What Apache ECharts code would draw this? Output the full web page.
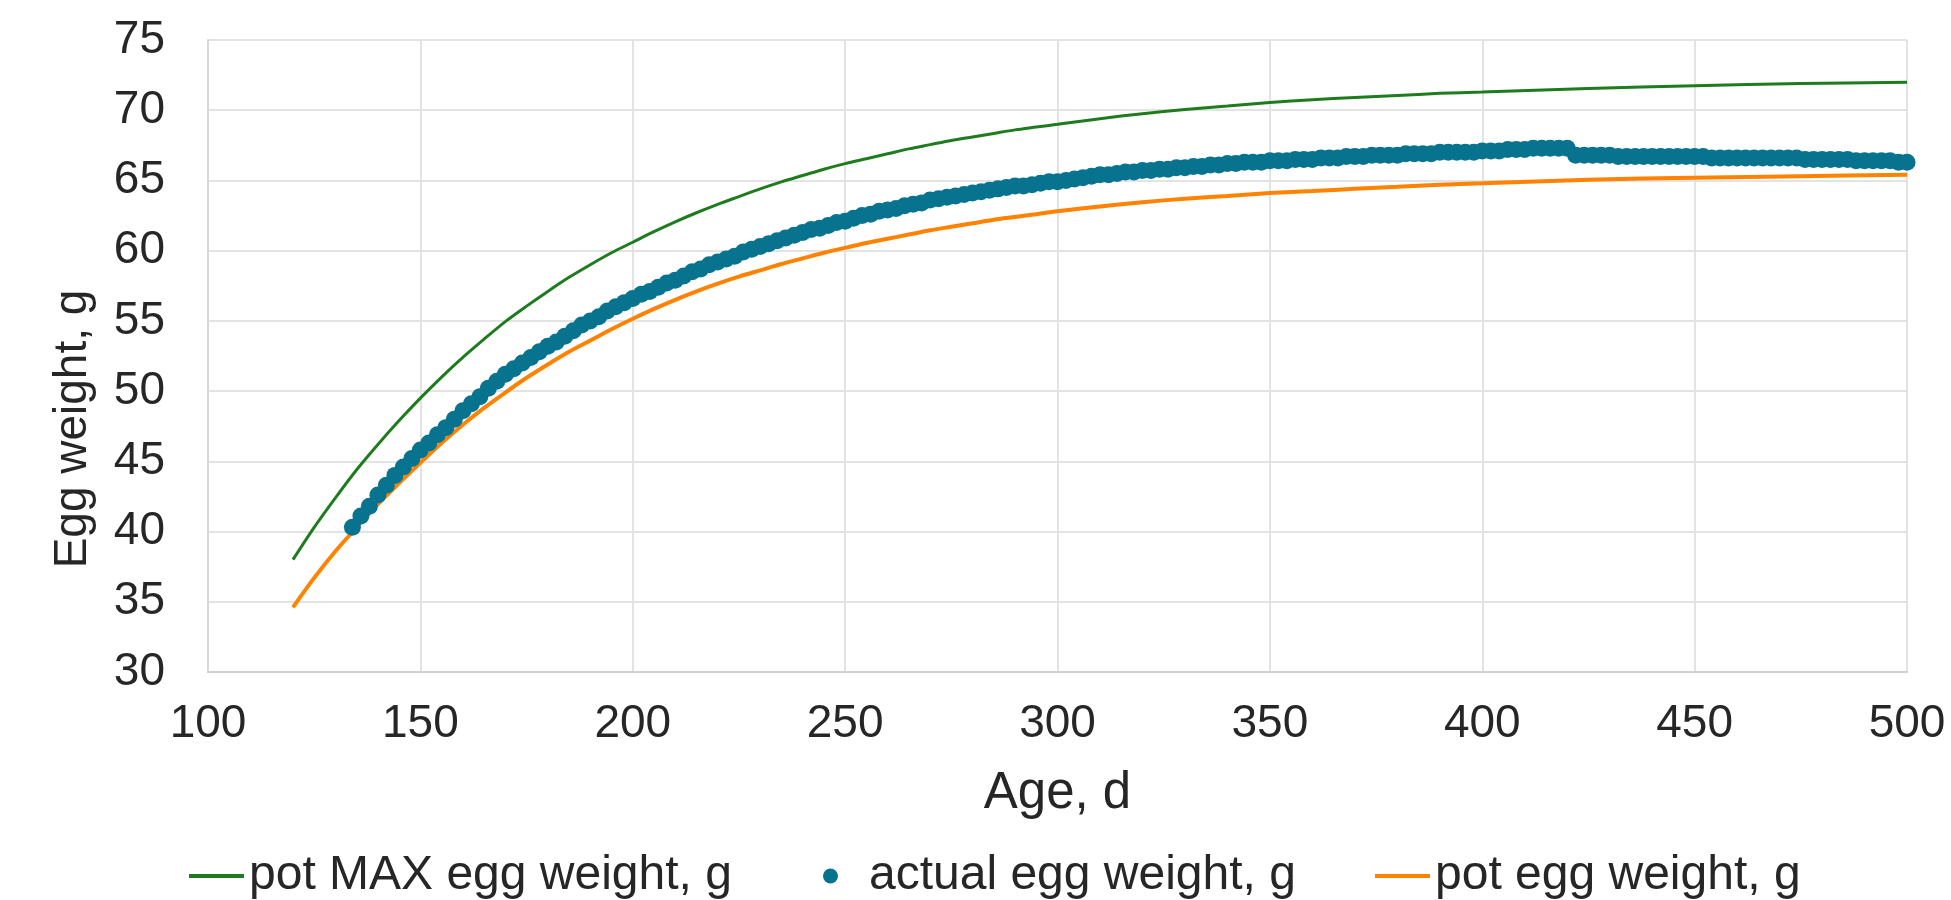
<!DOCTYPE html>
<html>
<head>
<meta charset="utf-8">
<script src="https://cdn.jsdelivr.net/npm/echarts@6/dist/echarts.min.js"></script>
<style>
html,body{margin:0;padding:0;background:#fff;}
#chart{width:1951px;height:900px;}
</style>
</head>
<body>
<div id="chart"></div>
<script>
// ---- data ----
const lineAge = [120,125,130,135,140,145,150,155,160,165,170,175,180,185,190,195,200,205,210,215,220,225,230,235,240,245,250,255,260,265,270,275,280,285,290,295,300,310,320,330,340,350,360,370,380,390,400,425,450,475,500];
const potMax  = [38.0,40.3,42.4,44.4,46.2,47.9,49.5,51.0,52.4,53.7,54.95,56.05,57.1,58.1,59.0,59.85,60.6,61.35,62.05,62.7,63.3,63.85,64.4,64.9,65.35,65.8,66.2,66.55,66.9,67.25,67.55,67.85,68.1,68.35,68.6,68.8,69.0,69.4,69.75,70.05,70.3,70.55,70.75,70.9,71.05,71.2,71.3,71.55,71.75,71.9,72.0];
const potEgg  = [34.6,36.7,38.6,40.3,41.95,43.45,44.9,46.3,47.6,48.8,49.9,50.95,51.9,52.8,53.6,54.4,55.15,55.85,56.5,57.1,57.65,58.15,58.6,59.05,59.45,59.85,60.2,60.55,60.85,61.15,61.45,61.7,61.95,62.2,62.4,62.6,62.8,63.15,63.45,63.7,63.9,64.1,64.25,64.4,64.55,64.7,64.8,65.05,65.2,65.3,65.4];

const actualAge = [134,136,138,140,142,144,146,148,150,152,154,156,158,160,162,164,166,168,170,172,174,176,178,180,182,184,186,188,190,192,194,196,198,200,
  202,204,206,208,210,212,214,216,218,220,222,224,226,228,230,232,234,236,238,240,242,244,246,248,250,
  252,254,256,258,260,262,264,266,268,270,272,274,276,278,280,282,284,286,288,290,292,294,296,298,300,
  302,304,306,308,310,312,314,316,318,320,322,324,326,328,330,332,334,336,338,340,342,344,346,348,350,
  352,354,356,358,360,362,364,366,368,370,372,374,376,378,380,382,384,386,388,390,392,394,396,398,400,
  402,404,406,408,410,412,414,416,418,420,422,424,426,428,430,432,434,436,438,440,442,444,446,448,450,
  452,454,456,458,460,462,464,466,468,470,472,474,476,478,480,482,484,486,488,490,492,494,496,498,500];
const actualEgg = [40.3,41.1,41.8,42.6,43.3,44.0,44.6,45.2,45.8,46.3,46.9,47.4,48.0,48.6,49.1,49.6,50.2,50.7,51.2,51.6,52.0,52.4,52.8,53.2,53.5,53.9,54.3,54.7,55.0,55.3,55.7,56.0,56.3,56.6,
  56.9,57.1,57.4,57.7,57.9,58.2,58.5,58.7,59.0,59.2,59.4,59.6,59.9,60.1,60.3,60.5,60.7,60.9,61.1,61.3,61.5,61.6,61.8,62.0,62.1,
  62.3,62.5,62.6,62.8,62.9,63.0,63.2,63.3,63.4,63.6,63.7,63.8,63.9,64.0,64.1,64.2,64.3,64.4,64.5,64.6,64.6,64.7,64.8,64.9,64.9,
  65.0,65.1,65.2,65.3,65.4,65.4,65.5,65.6,65.6,65.7,65.7,65.8,65.8,65.9,65.9,66.0,66.0,66.1,66.1,66.2,66.2,66.3,66.3,66.3,66.4,
  66.4,66.4,66.5,66.5,66.5,66.6,66.6,66.6,66.7,66.7,66.7,66.8,66.8,66.8,66.8,66.9,66.9,66.9,66.9,67.0,67.0,67.0,67.0,67.0,67.1,
  67.1,67.1,67.2,67.2,67.2,67.3,67.3,67.3,67.3,67.3,66.8,66.8,66.8,66.8,66.8,66.7,66.7,66.7,66.7,66.7,66.7,66.7,66.7,66.7,66.7,
  66.7,66.6,66.6,66.6,66.6,66.6,66.6,66.6,66.6,66.6,66.6,66.6,66.5,66.5,66.5,66.5,66.5,66.5,66.4,66.4,66.4,66.4,66.4,66.3,66.3];

const xTicks = {min:100, max:500, interval:50};
const yTicks = {min:30, max:75, interval:5};
const names = ['pot MAX egg weight, g','actual egg weight, g','pot egg weight, g'];

// ---- chart ----
const FONT = "'Liberation Sans', Arial, sans-serif";
const TXT = '#262626';
const C_GREEN = '#1E7B1E', C_BLUE = '#07738F', C_ORANGE = '#FF8200';

const zip = (a,b) => a.map((v,i)=>[v,b[i]]);

const chart = echarts.init(document.getElementById('chart'), null, {renderer:'canvas'});
const LEG_FONT = {fontFamily:FONT, fontSize:48, color:TXT};
const legendBase = {orient:'horizontal', top:852, padding:0, itemGap:0, selectedMode:false};
chart.setOption({
  animation:false,
  backgroundColor:'#fff',
  grid:{left:208, right:44, top:40, bottom:228, containLabel:false},
  xAxis:{
    type:'value', min:xTicks.min, max:xTicks.max, interval:xTicks.interval,
    name:'Age, d', nameLocation:'middle', nameGap:96,
    nameTextStyle:{fontFamily:FONT, fontSize:51, color:TXT},
    axisLine:{show:true, lineStyle:{color:'#d0d0d0', width:2}},
    axisTick:{show:false},
    axisLabel:{fontFamily:FONT, fontSize:46, color:TXT, margin:29},
    splitLine:{show:true, lineStyle:{color:'#e3e3e3', width:2}}
  },
  yAxis:{
    type:'value', min:yTicks.min, max:yTicks.max, interval:yTicks.interval,
    name:'Egg weight, g', nameLocation:'middle', nameGap:112,
    nameTextStyle:{fontFamily:FONT, fontSize:46, color:TXT, padding:[0,146,0,0]},
    axisLine:{show:true, lineStyle:{color:'#d9d9d9', width:2}},
    axisTick:{show:false},
    axisLabel:{fontFamily:FONT, fontSize:46, color:TXT, margin:43},
    splitLine:{show:true, lineStyle:{color:'#e3e3e3', width:2}}
  },
  legend:[
    Object.assign({}, legendBase, {left:189, data:[{name:names[0], icon:'rect'}], itemWidth:55, itemHeight:4, textStyle:LEG_FONT}),
    Object.assign({}, legendBase, {left:823, data:[{name:names[1], icon:'circle'}], itemWidth:15, itemHeight:15,
       textStyle:Object.assign({}, LEG_FONT, {padding:[0,0,0,26]})}),
    Object.assign({}, legendBase, {left:1375, data:[{name:names[2], icon:'rect'}], itemWidth:55, itemHeight:4, textStyle:LEG_FONT})
  ],
  series:[
    {name:names[0], type:'line', data:zip(lineAge, potMax), smooth:0.3, showSymbol:false,
     lineStyle:{color:C_GREEN, width:3}, itemStyle:{color:C_GREEN}, z:2},
    {name:names[2], type:'line', data:zip(lineAge, potEgg), smooth:0.3, showSymbol:false,
     lineStyle:{color:C_ORANGE, width:4}, itemStyle:{color:C_ORANGE}, z:2},
    {name:names[1], type:'scatter', data:zip(actualAge, actualEgg), symbol:'circle', symbolSize:17,
     itemStyle:{color:C_BLUE, opacity:1}, z:3}
  ]
});
</script>
</body>
</html>
